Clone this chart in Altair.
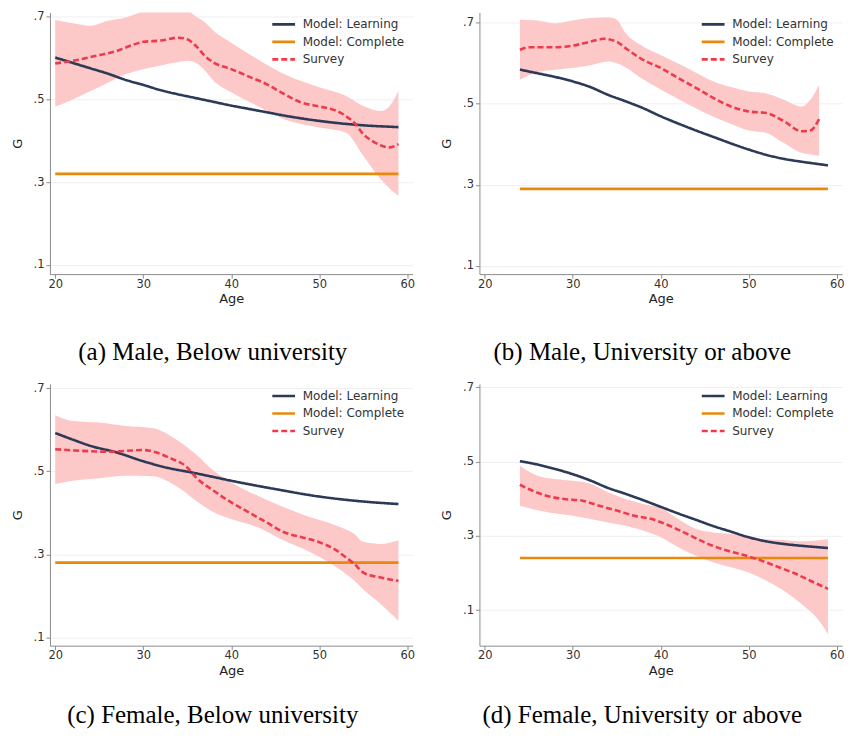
import altair as alt
import pandas as pd

NAMES = ["Model: Learning", "Model: Complete", "Survey"]
COLORS = ["#2d3a57", "#e8890c", "#ee3b4b"]
BAND = "#fcc8c8"

# ---------------- Panel (a) Male, Below university ----------------
a_learn_age = [20, 22, 24, 26, 28, 30, 32, 34, 36, 38, 40, 42, 44, 46, 48, 50, 52, 54, 56, 58, 59]
a_learn_val = [0.601, 0.588, 0.575, 0.562, 0.547, 0.535, 0.522, 0.512, 0.503, 0.494, 0.485,
               0.477, 0.469, 0.461, 0.454, 0.448, 0.443, 0.439, 0.436, 0.434, 0.433]
a_comp_age = [20, 59]
a_comp_val = [0.32, 0.32]
a_surv_age = [20, 22, 25, 27, 29, 30, 32, 34, 35, 36, 37, 38, 40, 42, 44, 46, 48, 50, 52, 53, 54, 55, 56, 58, 59]
a_surv_val = [0.587, 0.593, 0.607, 0.617, 0.633, 0.639, 0.642, 0.649, 0.645, 0.629, 0.605, 0.589,
              0.573, 0.555, 0.537, 0.513, 0.492, 0.483, 0.472, 0.460, 0.443, 0.416, 0.400, 0.384, 0.392]
a_band_age = [20, 22, 24, 26, 28, 30, 32, 34, 35, 36, 37, 38, 40, 43, 46, 50, 53, 55, 57, 58, 59]
a_band_hi = [0.692, 0.684, 0.678, 0.690, 0.698, 0.712, 0.720, 0.720, 0.715, 0.700, 0.686, 0.665,
             0.637, 0.597, 0.561, 0.529, 0.509, 0.484, 0.472, 0.484, 0.521]
a_band_lo = [0.483, 0.500, 0.520, 0.540, 0.561, 0.573, 0.582, 0.590, 0.593, 0.588, 0.570, 0.545,
             0.517, 0.484, 0.452, 0.432, 0.420, 0.364, 0.307, 0.285, 0.267]

# ---------------- Panel (b) Male, University or above ----------------
b_learn_age = [24, 26, 28, 30, 32, 34, 36, 38, 40, 42, 44, 46, 48, 50, 52, 54, 56, 58, 59]
b_learn_val = [0.584, 0.575, 0.566, 0.555, 0.541, 0.522, 0.506, 0.489, 0.469, 0.451, 0.434,
               0.418, 0.402, 0.387, 0.374, 0.364, 0.357, 0.351, 0.348]
b_comp_age = [24, 59]
b_comp_val = [0.29, 0.29]
b_surv_age = [24, 25, 28, 30, 32, 33.5, 35, 36, 38, 40, 42, 44, 46, 48, 50, 52, 54, 56, 57, 58]
b_surv_val = [0.633, 0.639, 0.639, 0.643, 0.653, 0.660, 0.653, 0.637, 0.608, 0.588, 0.563, 0.539,
              0.514, 0.493, 0.481, 0.477, 0.457, 0.432, 0.434, 0.462]
b_band_age = [24, 26, 28, 30, 32, 34, 35, 36, 38, 40, 43, 46, 48, 50, 52, 54, 56, 57, 58]
b_band_hi = [0.707, 0.705, 0.698, 0.705, 0.711, 0.713, 0.707, 0.674, 0.641, 0.620, 0.588, 0.555,
             0.541, 0.530, 0.525, 0.510, 0.493, 0.510, 0.547]
b_band_lo = [0.559, 0.578, 0.584, 0.588, 0.595, 0.604, 0.600, 0.590, 0.560, 0.535, 0.500, 0.468,
             0.450, 0.434, 0.428, 0.403, 0.379, 0.375, 0.372]

# ---------------- Panel (c) Female, Below university ----------------
c_learn_age = [20, 22, 24, 27, 30, 33, 35.5, 38, 40, 45, 50, 55, 59]
c_learn_val = [0.592, 0.576, 0.561, 0.545, 0.524, 0.507, 0.497, 0.486, 0.477, 0.457, 0.439, 0.427, 0.421]
c_comp_age = [20, 59]
c_comp_val = [0.28, 0.28]
c_surv_age = [20, 23, 26, 28, 30, 31, 33, 35, 36, 38, 40, 42, 44, 46, 48, 50, 52, 53, 54, 55, 57, 59]
c_surv_val = [0.553, 0.549, 0.547, 0.549, 0.551, 0.548, 0.532, 0.509, 0.485, 0.453, 0.425, 0.401,
              0.377, 0.353, 0.341, 0.329, 0.309, 0.293, 0.277, 0.256, 0.244, 0.236]
c_band_age = [20, 22, 25, 28, 31, 34, 36, 38, 40, 43, 46, 49, 52, 54, 55, 57, 59]
c_band_hi = [0.635, 0.621, 0.617, 0.609, 0.604, 0.573, 0.541, 0.501, 0.473, 0.441, 0.413, 0.389,
             0.369, 0.349, 0.330, 0.325, 0.334]
c_band_lo = [0.469, 0.477, 0.483, 0.489, 0.488, 0.461, 0.429, 0.401, 0.385, 0.365, 0.333, 0.305,
             0.268, 0.236, 0.215, 0.180, 0.140]

# ---------------- Panel (d) Female, University or above ----------------
d_learn_age = [24, 26, 28, 30, 32, 34, 36, 38, 40, 42, 44, 46, 48, 50, 52, 54, 56, 58, 59]
d_learn_val = [0.501, 0.492, 0.480, 0.466, 0.449, 0.429, 0.413, 0.396, 0.378, 0.360, 0.343,
               0.326, 0.311, 0.296, 0.285, 0.278, 0.273, 0.269, 0.267]
d_comp_age = [24, 59]
d_comp_val = [0.24, 0.24]
d_surv_age = [24, 25, 27, 29, 31, 33, 35, 37, 39, 41, 43, 45, 47, 49, 51, 53, 55, 57, 59]
d_surv_val = [0.438, 0.426, 0.408, 0.399, 0.395, 0.381, 0.368, 0.354, 0.345, 0.327, 0.305, 0.282,
              0.264, 0.251, 0.237, 0.219, 0.201, 0.179, 0.157]
d_band_age = [24, 26, 28, 30, 32, 34, 36, 38, 40, 42, 44, 46, 48, 50, 52, 54, 56, 58, 59]
d_band_hi = [0.489, 0.462, 0.453, 0.448, 0.440, 0.417, 0.399, 0.386, 0.375, 0.345, 0.318, 0.309,
             0.305, 0.298, 0.291, 0.289, 0.285, 0.288, 0.291]
d_band_lo = [0.381, 0.369, 0.360, 0.354, 0.345, 0.336, 0.327, 0.314, 0.296, 0.269, 0.246, 0.228,
             0.215, 0.201, 0.179, 0.152, 0.116, 0.071, 0.035]

PANELS = [
    ("(a) Male, Below university", [0.078, 0.71], a_learn_age, a_learn_val, a_comp_age, a_comp_val,
     a_surv_age, a_surv_val, a_band_age, a_band_lo, a_band_hi),
    ("(b) Male, University or above", [0.08, 0.725], b_learn_age, b_learn_val, b_comp_age, b_comp_val,
     b_surv_age, b_surv_val, b_band_age, b_band_lo, b_band_hi),
    ("(c) Female, Below university", [0.08, 0.71], c_learn_age, c_learn_val, c_comp_age, c_comp_val,
     c_surv_age, c_surv_val, c_band_age, c_band_lo, c_band_hi),
    ("(d) Female, University or above", [0.004, 0.709], d_learn_age, d_learn_val, d_comp_age, d_comp_val,
     d_surv_age, d_surv_val, d_band_age, d_band_lo, d_band_hi),
]

SANS = "DejaVu Sans"
W, H = 363, 262


def panel(caption, ydom, la, lv, ca, cv, sa, sv, ba, blo, bhi, cap_offset):
    lines = pd.concat([
        pd.DataFrame({"age": la, "value": lv, "series": NAMES[0]}),
        pd.DataFrame({"age": ca, "value": cv, "series": NAMES[1]}),
        pd.DataFrame({"age": sa, "value": sv, "series": NAMES[2]}),
    ])
    band = pd.DataFrame({"age": ba, "lo": blo, "hi": bhi})
    xscale = alt.Scale(domain=[19.4, 60.6], nice=False, zero=False)
    yscale = alt.Scale(domain=ydom, nice=False, zero=False)
    xaxis = alt.Axis(values=[20, 30, 40, 50, 60], grid=False, title="Age")
    yaxis = alt.Axis(values=[0.1, 0.3, 0.5, 0.7], grid=True, title="G",
                     labelExpr="replace(format(datum.value, '.1f'), '0.', '.')")
    leg = alt.Legend(title=None, orient="none", legendX=221, legendY=3.5,
                     symbolType="stroke", symbolSize=520, symbolStrokeWidth=2.6,
                     labelFont=SANS, labelFontSize=12, labelColor="#333333",
                     labelOffset=6, clipHeight=17, rowPadding=0.5, padding=0)
    band_layer = alt.Chart(band).mark_area(color=BAND, interpolate="monotone", clip=True).encode(
        x=alt.X("age:Q", scale=xscale, axis=xaxis),
        y=alt.Y("lo:Q", scale=yscale, axis=yaxis),
        y2="hi:Q",
    )
    line_layer = alt.Chart(lines).mark_line(strokeWidth=2.6, interpolate="monotone", clip=True).encode(
        x="age:Q",
        y="value:Q",
        color=alt.Color("series:N", scale=alt.Scale(domain=NAMES, range=COLORS), legend=leg),
        strokeDash=alt.StrokeDash("series:N",
                                  scale=alt.Scale(domain=NAMES, range=[[1, 0], [1, 0], [6, 3]]),
                                  legend=leg),
    )
    return alt.layer(band_layer, line_layer).properties(
        width=W, height=H,
        title=alt.Title(caption, orient="bottom", anchor="middle", frame="bounds",
                        font="Liberation Serif", fontSize=25, fontWeight="normal",
                        color="#000000", offset=cap_offset),
    )


charts = [panel(*p, cap_offset=off) for p, off in zip(PANELS, [34, 34, 26, 26])]


def row(c1, c2):
    return alt.hconcat(c1, c2, spacing=25).resolve_scale(
        color="independent", strokeDash="independent").resolve_legend(
        color="independent", strokeDash="independent")


chart = alt.vconcat(
    row(charts[0], charts[1]),
    row(charts[2], charts[3]),
    spacing=16,
).resolve_scale(
    color="independent", strokeDash="independent"
).resolve_legend(
    color="independent", strokeDash="independent"
).properties(
    padding={"left": 3, "top": 2, "right": 0, "bottom": 0},
    background="white",
).configure_view(stroke=None).configure_axis(
    domainColor="#8c8c8c", tickColor="#8c8c8c", gridColor="#efefef", gridWidth=1,
    labelFont=SANS, labelFontSize=11.5, labelColor="#333333", tickSize=4,
    titleFont=SANS, titleFontSize=13, titleFontWeight="normal", titleColor="#222222",
).configure_axisX(labelPadding=0, titlePadding=3).configure_axisY(
    labelPadding=2, titlePadding=9)

chart.save("out.html", embed_options={"renderer": "svg", "actions": False})
